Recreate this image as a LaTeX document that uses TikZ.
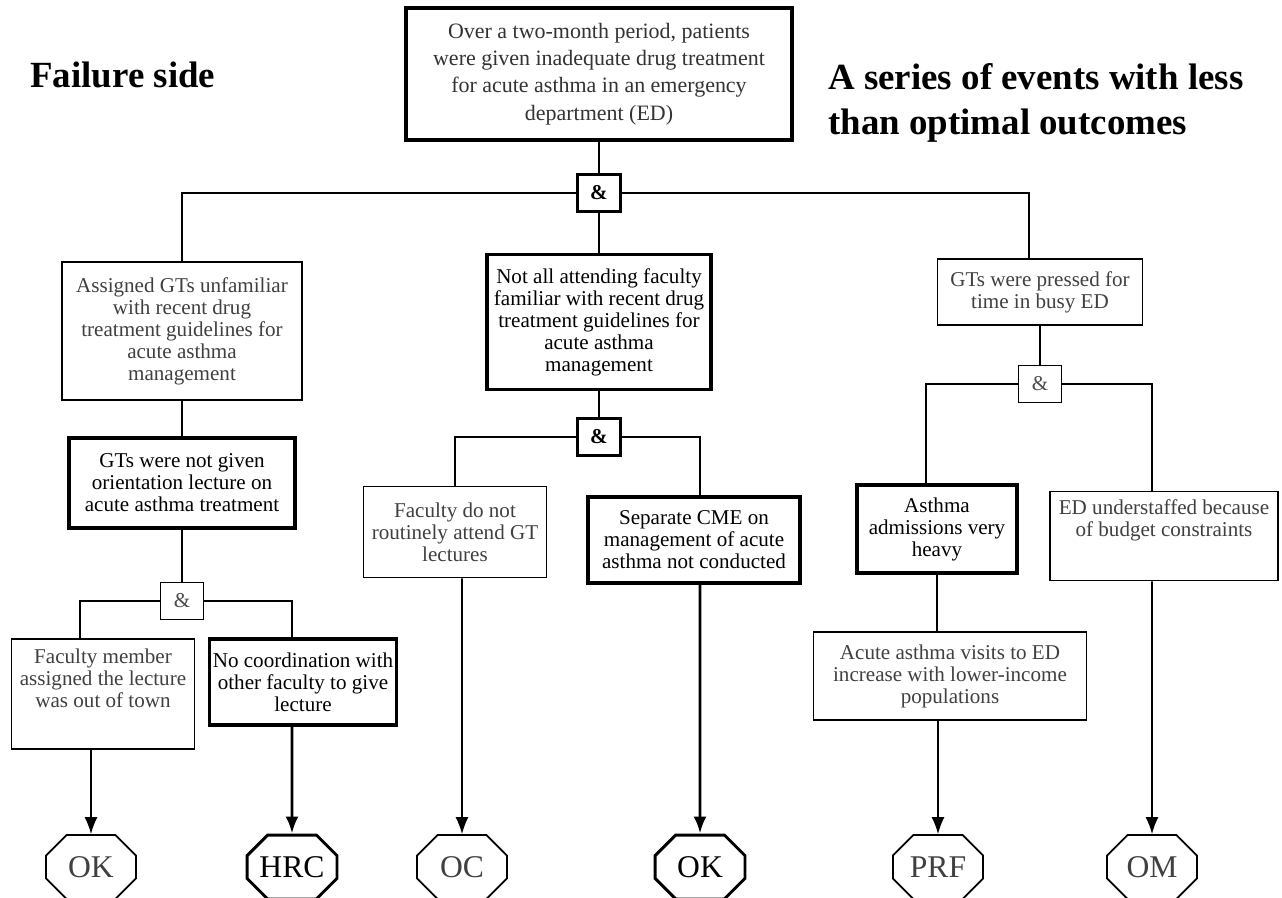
\documentclass[tikz,border=0pt]{standalone}
\usepackage{fontspec}
\setmainfont{Liberation Serif}
\usetikzlibrary{arrows.meta, shapes.misc}

\begin{document}
\begin{tikzpicture}[x=0.02cm, y=-0.02cm]

% Styles
\tikzstyle{box} = [draw, align=center, line width=1pt, text=black!75, font=\fontsize{12}{12.5}\selectfont, inner sep=2pt]
\tikzstyle{hotbox} = [box, line width=1.8pt, text=black]
\tikzstyle{gate} = [draw, line width=1pt, minimum width=0.86cm, minimum height=0.74cm, text=black!70, font=\fontsize{12}{12}\selectfont]
\tikzstyle{hotgate} = [gate, line width=1.5pt, text=black, font=\bfseries\fontsize{12}{12}\selectfont]
\tikzstyle{outcome} = [draw, chamfered rectangle, chamfered rectangle xsep=0.3cm, chamfered rectangle ysep=0.2cm, minimum width=1.8cm, minimum height=1.28cm, line width=1pt, text=black!75, font=\fontsize{18}{18}\selectfont, inner sep=0pt]
\tikzstyle{hotoutcome} = [outcome, line width=1.7pt, text=black]
\tikzstyle{link} = [line width=0.9pt]
\tikzstyle{arrow} = [link, -{Latex[length=0.34cm, width=0.26cm]}]
\tikzstyle{hotarrow} = [arrow, line width=1.6pt]
\tikzstyle{title} = [font=\bfseries\fontsize{21}{25.5}\selectfont, align=left, inner sep=0pt]

\fill[white] (0,0) rectangle (1282,898);
\useasboundingbox (0,0) rectangle (1282,898);

% Titles
\node[title, anchor=west] (side) at (30,75) {Failure side};
\node[title, anchor=west] (series) at (828,103) {A series of events with less\\than optimal outcomes};

% Nodes
\node[hotbox, text=black!80, minimum width=7.72cm, minimum height=2.64cm, font=\fontsize{12.5}{15.5}\selectfont] (top) at (599,74) {Over a two-month period, patients\\were given inadequate drug treatment\\for acute asthma in an emergency\\department (ED)};
\node[hotgate] (and0) at (599,193) {\&};

\node[box, minimum width=4.8cm, minimum height=2.76cm] (gtfam) at (182,331) {Assigned GTs unfamiliar\\with recent drug\\treatment guidelines for\\acute asthma\\management};
\node[hotbox, minimum width=4.52cm, minimum height=1.8cm] (gtlect) at (182,483) {GTs were not given\\orientation lecture on\\acute asthma treatment};
\node[gate] (and2) at (182,601) {\&};
\node[box, minimum width=3.66cm, minimum height=2.2cm] (away) at (103,694) {Faculty member\\assigned the lecture\\was out of town\\\rule{0pt}{0.6cm}};
\node[hotbox, minimum width=3.6cm, minimum height=1.72cm] (nocoord) at (303,682) {No coordination with\\other faculty to give\\lecture};

\node[hotbox, minimum width=4.48cm, minimum height=2.7cm] (facfam) at (599,322) {Not all attending faculty\\familiar with recent drug\\treatment guidelines for\\acute asthma\\management};
\node[hotgate] (and1) at (599,437) {\&};
\node[box, minimum width=3.66cm, minimum height=1.82cm] (noattend) at (455,532) {Faculty do not\\routinely attend GT\\lectures};
\node[hotbox, minimum width=4.24cm, minimum height=1.72cm] (nocme) at (694,540) {Separate CME on\\management of acute\\asthma not conducted};

\node[box, minimum width=4.1cm, minimum height=1.32cm] (pressed) at (1040,292) {GTs were pressed for\\time in busy ED};
\node[gate] (and3) at (1040,384) {\&};
\node[hotbox, minimum width=3.2cm, minimum height=1.76cm] (heavy) at (937,529) {Asthma\\admissions very\\heavy};
\node[box, minimum width=5.46cm, minimum height=1.76cm] (visits) at (950,676) {Acute asthma visits to ED\\increase with lower-income\\populations};
\node[box, minimum width=4.56cm, minimum height=1.78cm] (staff) at (1164,536) {ED understaffed because\\of budget constraints\\\rule{0pt}{0.6cm}};

% Outcomes
\node[outcome] (ok1) at (91,867) {OK};
\node[hotoutcome] (hrc) at (292,867) {HRC};
\node[outcome] (oc) at (462,867) {OC};
\node[hotoutcome] (ok2) at (700,867) {OK};
\node[outcome] (prf) at (938,867) {PRF};
\node[outcome] (om) at (1152,867) {OM};

% Arrows
\draw[link] (top) -- (and0);
\draw[link] (and0) -| (gtfam);
\draw[link] (and0) -- (facfam);
\draw[link] (and0) -| ([xshift=-0.22cm]pressed.north);
\draw[link] (gtfam) -- (gtlect);
\draw[link] (gtlect) -- (and2);
\draw[link] (and2) -| ([xshift=-0.46cm]away.north);
\draw[link] (and2) -| (hrc |- nocoord.north);
\draw[link] (facfam) -- (and1);
\draw[link] (and1) -| (noattend);
\draw[link] (and1) -| (ok2 |- nocme.north);
\draw[link] (pressed) -- (and3);
\draw[link] (and3) -| ([xshift=-0.22cm]heavy.north);
\draw[link] (and3) -| (om |- staff.north);
\draw[link] (heavy.south) -- (heavy.south |- visits.north);
\draw[arrow] (away.south -| ok1) -- (ok1);
\draw[hotarrow] (nocoord.south -| hrc) -- (hrc);
\draw[arrow] (noattend.south -| oc) -- (oc);
\draw[hotarrow] (nocme.south -| ok2) -- (ok2);
\draw[arrow] (visits.south -| prf) -- (prf);
\draw[arrow] (staff.south -| om) -- (om);

\end{tikzpicture}
\end{document}
